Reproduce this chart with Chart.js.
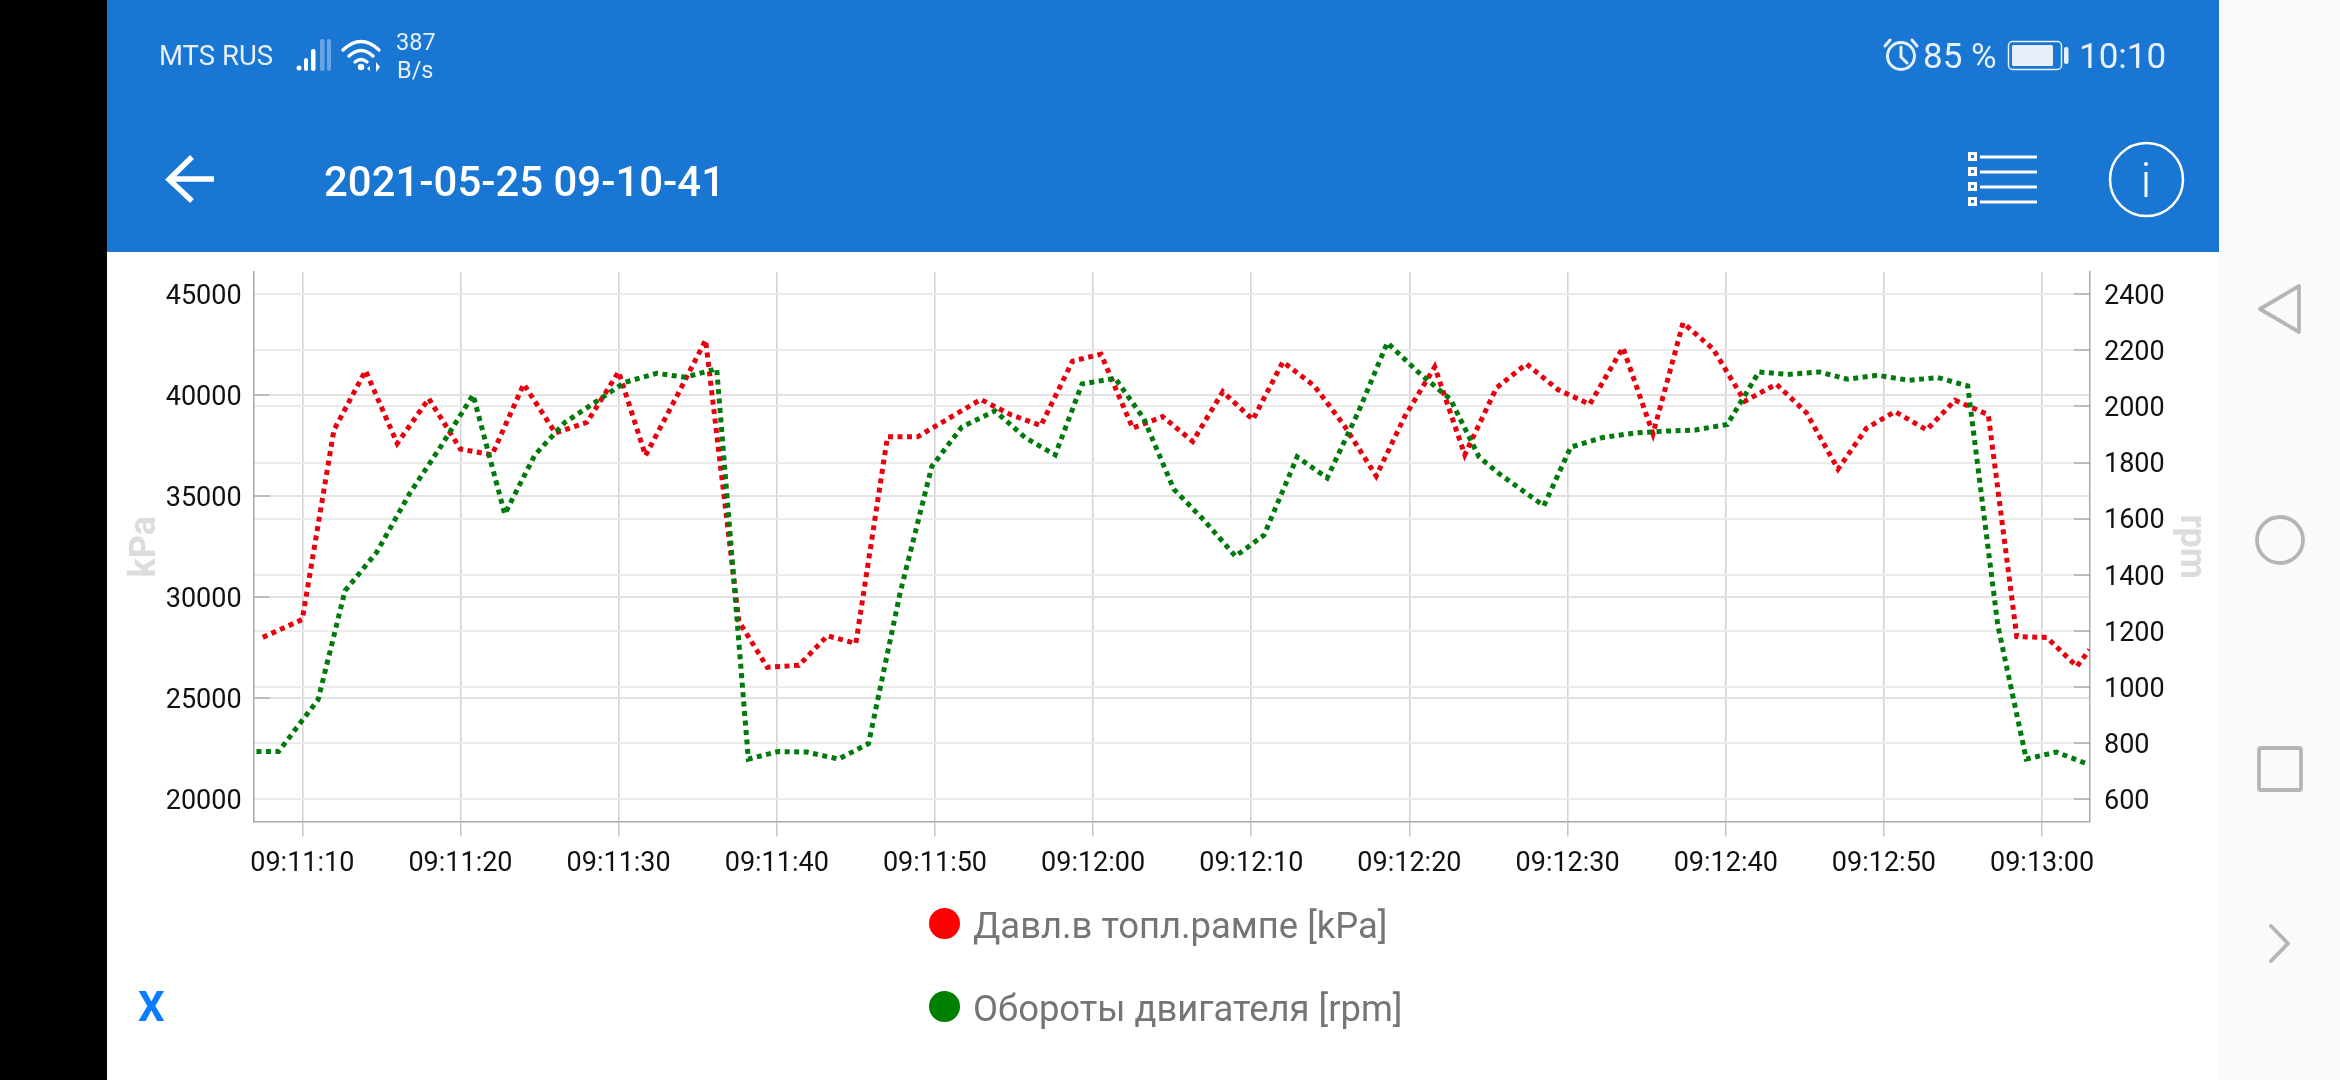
<!DOCTYPE html>
<html>
<head>
<meta charset="utf-8">
<title>2021-05-25 09-10-41</title>
<script src="https://cdn.jsdelivr.net/npm/chart.js@4"></script>
<style>
html, body { margin: 0; padding: 0; background: #fff; }
body { width: 2340px; height: 1080px; position: relative; overflow: hidden; font-family: Roboto, sans-serif; }
.box { position: absolute; }
.txt { position: absolute; white-space: nowrap; line-height: 1; }
#wrap { position: absolute; left: 107px; top: 252px; width: 2112px; height: 828px; }
svg { position: absolute; left: 0; top: 0; }
</style>
</head>
<body>
<div class="box" style="left:0;top:0;width:107px;height:1080px;background:#000"></div>
<div class="box" style="left:2219px;top:0;width:121px;height:1080px;background:#fafafa"></div>
<div class="box" style="left:107px;top:0;width:2112px;height:252px;background:#1976d2"></div>

<div id="wrap"><canvas id="myChart"></canvas></div>

<svg width="2340" height="1080" fill="none">
  <!-- signal + wifi -->
  <g fill="#fff">
    <circle cx="299" cy="68" r="2.5"/>
    <rect x="304" y="58" width="4" height="13" rx="2"/>
    <rect x="311" y="49" width="4.5" height="22" rx="2"/>
    <rect x="320" y="39" width="4.5" height="32" rx="2" opacity=".35"/>
    <rect x="327" y="39" width="4" height="32" rx="2" opacity=".35"/>
  </g>
  <g stroke="#fff" stroke-width="3.4" stroke-linecap="round">
    <path d="M343 50 Q361 33 379 50"/>
    <path d="M349 56 Q361 45 373 56"/>
    <path d="M355 62 Q361 57 367 62"/>
  </g>
  <circle cx="361" cy="67" r="3.2" fill="#fff"/>
  <path d="M370 66 l-3 2.5 3 2.5z M376 62v10 l4 -5z" fill="#fff"/>
  <!-- back arrow -->
  <path d="M214 179H170 M192 157L169 179.500L192 201" stroke="#fff" stroke-width="5.5"/>
  <!-- alarm -->
  <g stroke="#e8f0fa" stroke-width="3">
    <circle cx="1901" cy="56" r="13.500"/>
    <path d="M1901 47v10l6 6 M1885 46l5 -6 M1917 46l-5 -6" stroke-linecap="round"/>
  </g>
  <!-- battery -->
  <rect x="2008.500" y="41.500" width="53" height="28" rx="4" stroke="#e8f0fa" stroke-width="1.500"/>
  <rect x="2012" y="45" width="41" height="21" rx="1.500" fill="#e8f0fa"/>
  <rect x="2064" y="47" width="4.500" height="17" rx="2" fill="#e8f0fa"/>
  <!-- list icon -->
  <g stroke="#fff">
    <rect x="1969.500" y="153.500" width="6" height="6" stroke-width="3"/>
    <rect x="1969.500" y="168.500" width="6" height="6" stroke-width="3"/>
    <rect x="1969.500" y="183.500" width="6" height="6" stroke-width="3"/>
    <rect x="1969.500" y="198.500" width="6" height="6" stroke-width="3"/>
    <path d="M1980 157H2037 M1980 172H2037 M1980 187H2037 M1980 202H2037" stroke-width="3"/>
  </g>
  <!-- info icon -->
  <circle cx="2146.500" cy="179.500" r="36.500" stroke="#fff" stroke-width="2.500"/>
  <path d="M2146 172V197" stroke="#fff" stroke-width="3"/>
  <circle cx="2146" cy="164" r="2" fill="#fff"/>
  <!-- nav buttons -->
  <g stroke="#b5b5b5" stroke-width="3.8" stroke-linejoin="round" stroke-linecap="round">
    <path d="M2299 286V332L2260 309Z"/>
    <circle cx="2280" cy="540" r="23"/>
    <rect x="2259" y="748" width="42" height="42" rx="2"/>
    <path d="M2271 926L2288 943.500L2271 961"/>
  </g>
</svg>

<div class="txt" style="left:159px;top:42px;font-size:27.5px;color:#e6effa">MTS RUS</div>
<div class="txt" style="left:396px;top:31px;font-size:23.5px;color:#e6effa">387</div>
<div class="txt" style="left:397px;top:59px;font-size:23.5px;color:#e6effa">B/s</div>
<div class="txt" style="left:324px;top:160px;font-size:43px;font-weight:500;color:#fff;transform:scaleX(.975);transform-origin:left">2021-05-25 09-10-41</div>
<div class="txt" style="left:1923px;top:39px;font-size:35px;color:#e8f0fa">85 %</div>
<div class="txt" style="left:2079px;top:39px;font-size:35px;color:#e8f0fa">10:10</div>
<div class="txt" style="left:138px;top:986px;font-size:42px;font-weight:700;color:#0a7cff">X</div>

<script>
// seconds after 09:11:00
const pressureTimes = [7.5,10,12,14,16,18,20,22,24,26,28,30,31.7,33.7,35.5,37.6,39.4,41.4,43.2,45,47,48.9,52.9,54.8,56.7,58.7,60.5,62.5,64.4,66.3,68.2,70.1,72,74,75.9,77.9,79.7,81.6,83.5,85.5,87.4,89.4,91.4,93.5,95.4,97.3,99.2,101.2,103.2,105.1,107.1,108.9,110.7,112.7,114.5,116.6,118.4,120.3,122.2,123];
const pressureValues = [28010,28900,38280,41210,37610,39830,37330,37050,40550,38130,38660,41160,37010,39980,42730,28810,26530,26630,28090,27710,37940,37940,39790,39030,38500,41690,42030,38370,38940,37710,40170,38790,41650,40450,38470,36000,38940,41400,37050,40360,41550,40270,39550,42350,38090,43580,42290,39700,40550,39130,36340,38370,39190,38280,39750,39030,28050,28010,26570,27400];

const rpmTimes = [7.1,8.5,11,12.7,14.7,16.8,18.8,20.8,22.8,24.7,26.6,28.6,30.4,32.4,34.2,36.2,38.2,40.1,41.9,43.9,45.8,47.8,49.8,51.7,53.8,55.7,57.6,59.3,61.4,63.2,65.1,67,69,70.8,72.9,74.8,76.8,78.6,80.6,82.6,84.4,85.7,88.5,90.2,92.2,94.2,96.2,98.1,100.1,102.1,103.9,105.9,107.7,109.6,111.6,113.4,115.3,117.2,119,120.9,122.8];
const rpmValues = [770,770,955,1343,1480,1691,1861,2041,1616,1827,1943,2018,2086,2118,2104,2134,743,770,768,743,798,1336,1786,1927,1984,1889,1827,2080,2100,1957,1705,1595,1466,1541,1820,1745,1984,2227,2120,2025,1820,1759,1646,1855,1889,1905,1912,1916,1936,2123,2114,2123,2097,2111,2093,2103,2073,1220,743,768,727];

const xTickValues = [10,20,30,40,50,60,70,80,90,100,110,120];
const xTickLabels = ['09:11:10','09:11:20','09:11:30','09:11:40','09:11:50','09:12:00','09:12:10','09:12:20','09:12:30','09:12:40','09:12:50','09:13:00'];
const kpaTicks = [20000,25000,30000,35000,40000,45000];
const rpmTicks = [600,800,1000,1200,1400,1600,1800,2000,2200,2400];
const seriesNames = ['Давл.в топл.рампе [kPa]','Обороты двигателя [rpm]'];
const seriesColors = ['#e8000f','#007a0c'];
const legendColors = ['#ff0000','#008000'];

function points(times, values) {
  return times.map((t, i) => ({ x: t, y: values[i] }));
}
function tickObjects(values) {
  return values.map(v => ({ value: v }));
}

// legend
const legendTops = [908, 991];
seriesNames.forEach((name, i) => {
  const dot = document.createElement('div');
  dot.className = 'box';
  dot.style.cssText = `left:929px;top:${legendTops[i]}px;width:31px;height:31px;border-radius:50%;background:${legendColors[i]}`;
  document.body.appendChild(dot);
  const label = document.createElement('div');
  label.className = 'txt';
  label.style.cssText = `left:973px;top:${legendTops[i]}px;font-size:36.4px;color:#757575`;
  label.textContent = name;
  document.body.appendChild(label);
});

const tickFont = { family: 'Roboto', size: 27 };
const titleFont = { family: 'Roboto', size: 36, weight: 'bold' };

// the scales add label padding of their own, drop it so the plot area stays fixed
function noPadding(scale) {
  scale.paddingTop = 0;
  scale.paddingBottom = 0;
  scale.paddingLeft = 0;
  scale.paddingRight = 0;
}

new Chart(document.getElementById('myChart'), {
  type: 'line',
  data: {
    datasets: [{
      label: seriesNames[0],
      data: points(pressureTimes, pressureValues),
      yAxisID: 'yKpa',
      borderColor: seriesColors[0],
      borderWidth: 5,
      borderDash: [5, 4.5],
      pointRadius: 0,
      tension: 0,
      order: 2
    }, {
      label: seriesNames[1],
      data: points(rpmTimes, rpmValues),
      yAxisID: 'yRpm',
      borderColor: seriesColors[1],
      borderWidth: 5,
      borderDash: [5, 4.5],
      pointRadius: 0,
      tension: 0,
      order: 1
    }]
  },
  options: {
    responsive: true,
    maintainAspectRatio: false,
    animation: false,
    layout: { padding: { top: 20, left: 0, right: 0, bottom: 0 } },
    plugins: { legend: { display: false }, tooltip: { enabled: false } },
    scales: {
      x: {
        type: 'linear',
        min: 6.92,
        max: 123.03,
        grid: { color: '#d4d4d4', lineWidth: 1.6, tickColor: '#c8c8c8', tickLength: 15 },
        border: { color: '#aaaaaa', width: 1.5 },
        ticks: {
          autoSkip: false,
          maxRotation: 0,
          color: '#111',
          font: tickFont,
          padding: 12,
          callback: (v, i) => xTickLabels[i]
        },
        afterBuildTicks: scale => { scale.ticks = tickObjects(xTickValues); },
        afterFit: scale => { scale.height = 258.6; noPadding(scale); }
      },
      yKpa: {
        position: 'left',
        min: 18901,
        max: 46099,
        grid: { color: '#e2e2e2', lineWidth: 2, tickColor: '#bdbdbd', tickLength: -16 },
        border: { color: '#aaaaaa', width: 1.5 },
        ticks: {
          color: '#111',
          font: tickFont,
          padding: 28,
          labelOffset: 3,
          callback: v => String(v)
        },
        afterBuildTicks: scale => { scale.ticks = tickObjects(kpaTicks); },
        title: { display: true, text: 'kPa', color: '#dcdcdc', font: titleFont, padding: { top: 17, bottom: 0 } },
        afterFit: scale => { scale.width = 146.6; noPadding(scale); }
      },
      yRpm: {
        position: 'right',
        min: 520.9,
        max: 2479.1,
        grid: { color: '#ebebeb', lineWidth: 2, tickColor: '#bdbdbd', tickLength: -16 },
        border: { color: '#aaaaaa', width: 1.5 },
        ticks: {
          color: '#111',
          font: tickFont,
          padding: 30,
          labelOffset: 3,
          callback: v => String(v)
        },
        afterBuildTicks: scale => { scale.ticks = tickObjects(rpmTicks); },
        title: { display: true, text: 'rpm', color: '#dcdcdc', font: titleFont, padding: { top: 7, bottom: 0 } },
        afterFit: scale => { scale.width = 129; noPadding(scale); }
      }
    }
  }
});
</script>
</body>
</html>
